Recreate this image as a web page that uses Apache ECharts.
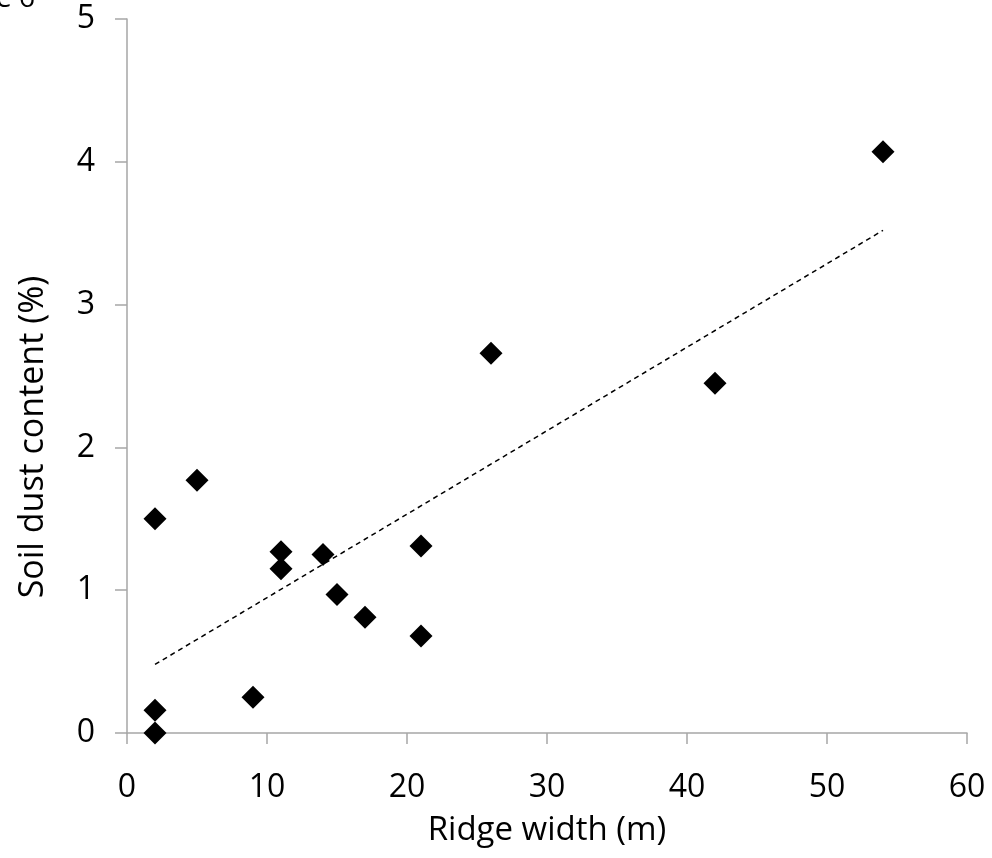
<!DOCTYPE html>
<html>
<head>
<meta charset="utf-8">
<style>
  html, body { margin: 0; padding: 0; background: #fff; }
  #dust-chart { width: 992px; height: 858px; }
</style>
<script src="https://cdn.jsdelivr.net/npm/echarts@6/dist/echarts.min.js"></script>
</head>
<body>
<div id="dust-chart"></div>
<script>
// ridge width (m) vs soil dust content (%)
var ridgeWidth = [2, 2, 2, 5, 9, 11, 11, 14, 15, 17, 21, 21, 26, 42, 54];
var dustContent = [0, 0.16, 1.5, 1.77, 0.25, 1.27, 1.15, 1.25, 0.97, 0.81, 1.31, 0.68, 2.66, 2.45, 4.07];
// trendline ends
var trendX = [2, 54];
var trendY = [0.48, 3.52];

var font = "'Open Sans', 'Noto Sans', sans-serif";

var chart = echarts.init(document.getElementById("dust-chart"));

var option = {
  animation: false,
  backgroundColor: "#fff",
  textStyle: { fontFamily: font },
  graphic: [{
    type: "text",
    right: 957,
    top: -15,
    style: { text: "Figure 6", fill: "#000", font: "28px " + font }
  }, {
    // y title sits lower than the axis middle in the original
    type: "text",
    x: 33,
    y: 437,
    rotation: Math.PI / 2,
    style: {
      text: "Soil dust content (%)",
      fill: "#000",
      font: "34px " + font,
      align: "center",
      verticalAlign: "middle"
    }
  }],
  grid: { left: 127, right: 25, top: 19, bottom: 125 },
  xAxis: {
    type: "value",
    min: 0, max: 60, interval: 10,
    name: "Ridge width (m)",
    nameLocation: "middle",
    nameGap: 81,
    nameTextStyle: { fontSize: 33, color: "#000", fontFamily: font },
    axisLine: { show: true, lineStyle: { color: "#a6a6a6", width: 1.5 } },
    axisTick: { show: true, length: 11, lineStyle: { color: "#a6a6a6", width: 1.5 } },
    axisLabel: { fontSize: 32, color: "#000", margin: 39, fontFamily: font },
    splitLine: { show: false }
  },
  yAxis: {
    type: "value",
    min: 0, max: 5, interval: 1,
    axisLine: { show: true, lineStyle: { color: "#a6a6a6", width: 1.5 } },
    axisTick: { show: true, length: 12, lineStyle: { color: "#a6a6a6", width: 1.5 } },
    axisLabel: { fontSize: 32, color: "#000", margin: 32, fontFamily: font },
    splitLine: { show: false }
  },
  series: [{
    name: "trend",
    type: "line",
    data: trendX.map(function (x, i) { return [x, trendY[i]]; }),
    symbol: "none",
    lineStyle: { color: "#000", width: 1.5, type: [5, 4] },
    z: 2
  }, {
    name: "dust",
    type: "scatter",
    data: ridgeWidth.map(function (x, i) { return [x, dustContent[i]]; }),
    symbol: "diamond",
    symbolSize: 23,
    itemStyle: { color: "#000", opacity: 1 },
    z: 3
  }]
};

chart.setOption(option);
window.onresize = function () {
  chart.resize();
};
</script>
</body>
</html>
